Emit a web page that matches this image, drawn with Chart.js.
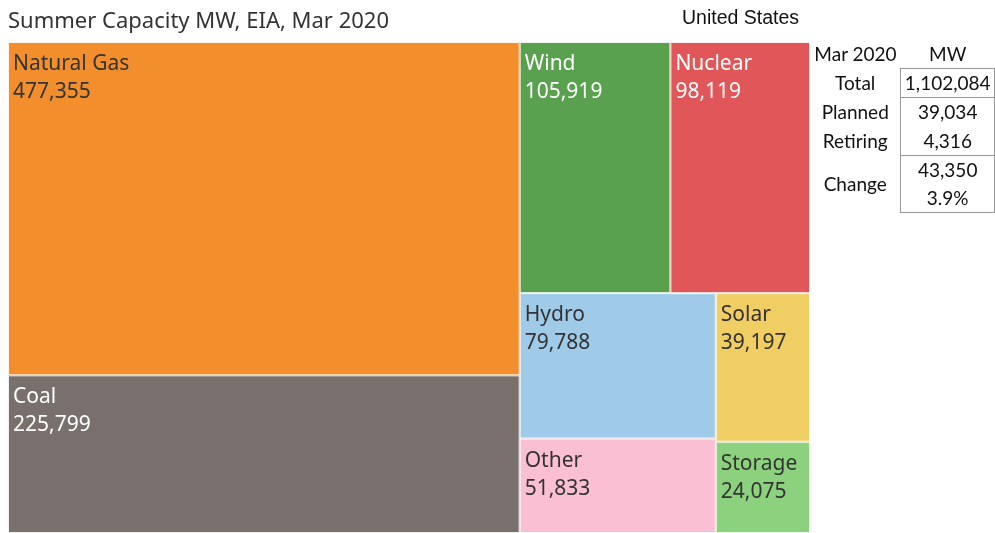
<!DOCTYPE html>
<html>
<head>
<meta charset="utf-8">
<script src="https://cdn.jsdelivr.net/npm/chart.js@4/dist/chart.umd.min.js"></script>
<style>
  body { margin: 0; background: #fff; }
  #wrap { position: relative; width: 995px; height: 533px; overflow: hidden; }
  #chart { position: absolute; left: 0; top: 0; }
  #title { position: absolute; left: 8px; top: 4px; font: 22px "Noto Sans", sans-serif; color: #333; white-space: nowrap; }
  #region { position: absolute; left: 682px; top: 6px; font: 19.5px "Liberation Sans", Arial, sans-serif; color: #111; }
  #stats { position: absolute; left: 810px; top: 40px; border-collapse: collapse; font: 19px Lato, sans-serif; color: #111; }
  #stats td { height: 28.2px; padding: 0; text-align: center; line-height: 28px; }
  #stats td.lbl { width: 92px; }
  #stats td.val { width: 93px; border-left: 1px solid #999; border-right: 1px solid #999; }
  #stats tr.top td.val { border-top: 1px solid #999; }
  #stats tr.sep td.val { border-bottom: 1px solid #999; }
</style>
</head>
<body>
<div id="wrap">
  <canvas id="chart" width="995" height="533"></canvas>
  <div id="title">Summer Capacity MW, EIA, Mar 2020</div>
  <div id="region">United States</div>
  <table id="stats">
    <tr><td class="lbl">Mar 2020</td><td>MW</td></tr>
    <tr class="top sep"><td class="lbl">Total</td><td class="val" id="v-total"></td></tr>
    <tr><td class="lbl">Planned</td><td class="val" id="v-planned"></td></tr>
    <tr class="sep"><td class="lbl">Retiring</td><td class="val" id="v-retiring"></td></tr>
    <tr><td class="lbl" rowspan="2">Change</td><td class="val" id="v-change"></td></tr>
    <tr class="sep"><td class="val" id="v-pct"></td></tr>
  </table>
</div>
<script>
(function() {
    'use strict';

    // Capacidade por fonte (MW)
    const categories = ['Natural Gas', 'Coal', 'Wind', 'Nuclear', 'Hydro', 'Other', 'Solar', 'Storage'];
    const values = [477355, 225799, 105919, 98119, 79788, 51833, 39197, 24075];

    // Resumo
    const statLabels = ['Total', 'Planned', 'Retiring', 'Change'];
    const statValues = [1102084, 39034, 4316, 43350];
    const changePct = 3.9;

    const fills = ['#F28E2B', '#79706E', '#59A14F', '#E15759', '#A0CBE8', '#FABFD2', '#F1CE63', '#8CD17D'];
    const inks = ['#333', '#fff', '#fff', '#fff', '#333', '#333', '#333', '#333'];

    // Estrutura do treemap: 'h' = lado a lado, 'v' = empilhado
    const tree = { dir: 'h', children: [
        { dir: 'v', children: [0, 1] },
        { dir: 'v', children: [
            { dir: 'h', children: [2, 3] },
            { dir: 'h', children: [
                { dir: 'v', children: [4, 5] },
                { dir: 'v', children: [6, 7] }
            ]}
        ]}
    ]};

    function sumOf(node) {
        if (typeof node === 'number') return values[node];
        return node.children.reduce((s, c) => s + sumOf(c), 0);
    }

    // Calcula retângulos em unidades de dados (0..1)
    const cells = [];
    function layout(node, x0, y0, x1, y1) {
        if (typeof node === 'number') {
            cells.push({ i: node, x0: x0, y0: y0, x1: x1, y1: y1 });
            return;
        }
        const total = sumOf(node);
        let pos = node.dir === 'h' ? x0 : y0;
        node.children.forEach(function(c) {
            const f = sumOf(c) / total;
            if (node.dir === 'h') {
                const w = (x1 - x0) * f;
                layout(c, pos, y0, pos + w, y1);
                pos += w;
            } else {
                const h = (y1 - y0) * f;
                layout(c, x0, pos, x1, pos + h);
                pos += h;
            }
        });
    }
    layout(tree, 0, 0, 1, 1);

    const fmt = n => n.toLocaleString('en-US');

    const treemapPlugin = {
        id: 'treemap',
        afterDatasetsDraw(chart) {
            const ctx = chart.ctx;
            const sx = chart.scales.x, sy = chart.scales.y;
            ctx.save();
            cells.forEach(function(c) {
                const left = sx.getPixelForValue(c.x0);
                const right = sx.getPixelForValue(c.x1);
                const top = sy.getPixelForValue(c.y0);
                const bottom = sy.getPixelForValue(c.y1);
                ctx.fillStyle = fills[c.i];
                ctx.fillRect(left, top, right - left, bottom - top);
                ctx.strokeStyle = 'rgba(255,255,255,0.9)';
                ctx.lineWidth = 1;
                ctx.strokeRect(left + 0.5, top + 0.5, right - left - 1, bottom - top - 1);

                ctx.fillStyle = inks[c.i];
                ctx.font = '21px "Noto Sans", sans-serif';
                ctx.textBaseline = 'alphabetic';
                ctx.textAlign = 'left';
                ctx.fillText(categories[c.i], left + 5, top + 28);
                ctx.fillText(fmt(values[c.i]), left + 5, top + 56);
            });
            ctx.restore();
        }
    };

    new Chart(document.getElementById('chart'), {
        type: 'scatter',
        data: { datasets: [{ label: 'MW', data: [] }] },
        options: {
            responsive: false,
            animation: false,
            layout: { padding: { left: 8, top: 42, right: 185, bottom: 0 } },
            plugins: { legend: { display: false }, tooltip: { enabled: false } },
            scales: {
                x: { type: 'linear', min: 0, max: 1, display: false },
                y: { type: 'linear', min: 0, max: 1, reverse: true, display: false }
            }
        },
        plugins: [treemapPlugin]
    });

    document.getElementById('v-total').textContent = fmt(statValues[0]);
    document.getElementById('v-planned').textContent = fmt(statValues[1]);
    document.getElementById('v-retiring').textContent = fmt(statValues[2]);
    document.getElementById('v-change').textContent = fmt(statValues[3]);
    document.getElementById('v-pct').textContent = changePct.toFixed(1) + '%';
})();
</script>
</body>
</html>
